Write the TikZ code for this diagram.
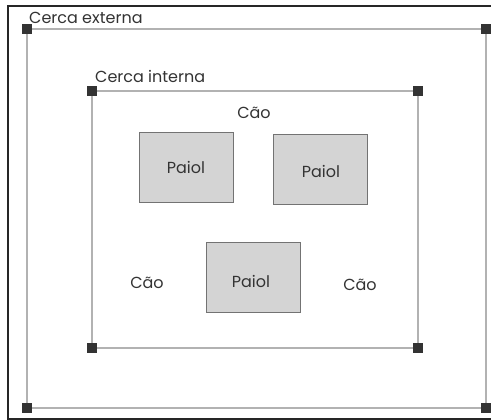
\documentclass[tikz,border=0pt]{standalone}
\usepackage{fontspec}
\setmainfont{Poppins}
\begin{document}
\begin{tikzpicture}[x=1pt, y=-1pt,
    post/.style={draw=none, fill=black!80, minimum size=9pt, inner sep=0pt, shape=rectangle},
    fence/.style={color=black!30, line width=1.6pt},
    paiol/.style={draw=black!55, fill=black!17, semithick, minimum width=94pt, minimum height=70pt, inner sep=0pt},
    lbl/.style={text=black!80, font=\fontsize{16}{18}\selectfont, inner sep=0pt}]
        \useasboundingbox (0,0) rectangle (491,420);
        \fill[white] (0,0) rectangle (491,420);
        \draw[line width=2.8pt, black!85] (500,6) -- (8,6) -- (8,419) -- (500,419);
        
        % cerca externa
        \node[post] (e1) at (27,29) {};
        \node[post] (e2) at (486,29) {};
        \node[post] (e3) at (486,408) {};
        \node[post] (e4) at (27,408) {};
        % cerca interna
        \node[post] (i1) at (92,91) {};
        \node[post] (i2) at (418,91) {};
        \node[post] (i3) at (418,348) {};
        \node[post] (i4) at (92,348) {};
        \draw[fence] (e1.center) -- (e2.center) -- (e3.center) -- (e4.center) -- cycle;
        \draw[fence] (i1.center) -- (i2.center) -- (i3.center) -- (i4.center) -- cycle;
        % postes por cima da cerca
        \foreach \p in {e1,e2,e3,e4,i1,i2,i3,i4} \fill[black!80] (\p.south west) rectangle (\p.north east);
        
        \node[lbl, anchor=base west] (ce) at (29,24) {Cerca externa};
        \node[lbl, anchor=base west] (ci) at (95,83) {Cerca interna};
        
        \node[paiol] (p1) at (186,167) {};
        \node[paiol] (p2) at (320.5,169.5) {};
        \node[paiol] (p3) at (253,277.5) {};
        \node[lbl] (t1) at (186,167) {Paiol};
        \node[lbl] (t2) at (321,171) {Paiol};
        \node[lbl] (t3) at (251,281) {Paiol};
        
        \node[lbl] (c1) at (254,113) {Cão};
        \node[lbl] (c2) at (147,283) {Cão};
        \node[lbl] (c3) at (360,285) {Cão};
        
    \end{tikzpicture}
\end{document}
